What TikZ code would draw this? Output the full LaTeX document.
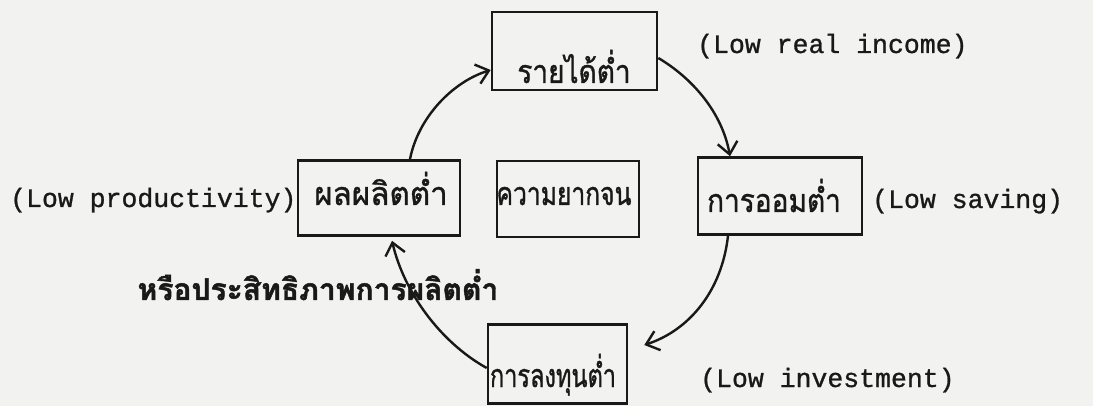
\documentclass[tikz,border=0pt]{standalone}
\usepackage{fontspec}
\usepackage{graphicx}
\usetikzlibrary{arrows.meta,calc}
\newfontfamily\thaifont[Script=Thai,FakeBold=1.2]{Loma}
\newfontfamily\thaiboldfont[Script=Thai,FakeBold=1.5]{Loma}
\newfontfamily\twfont[FakeBold=1]{Liberation Mono}
\definecolor{paper}{RGB}{242,242,240}
\definecolor{ink}{RGB}{25,25,25}
\begin{document}
\begin{tikzpicture}[x=1pt,y=-1pt,
  box/.style n args={2}{draw=ink,line width=2.6pt,minimum width=#1,minimum height=#2,inner sep=0pt},
  thaitext/.style={anchor=base,inner sep=0pt,text=ink,font=\thaifont\fontsize{28}{30}\selectfont},
  thaibold/.style={anchor=base,inner sep=0pt,text=ink,font=\thaiboldfont\bfseries\fontsize{30}{32}\selectfont},
  engtext/.style={anchor=base west,inner sep=0pt,text=ink,font=\twfont\fontsize{26.5}{28}\selectfont},
  conn/.style={draw=ink,line width=2.4pt,-{Straight Barb[length=12pt,width=20pt,line width=2.4pt]}}]
\useasboundingbox (0,0) rectangle (1093,406);
\fill[paper] (0,0) rectangle (1093,406);
% boxes
\node[box={165pt}{78pt}] (T) at (574.5,51) {};
\node[box={162pt}{75pt}] (L) at (379,198) {};
\node[box={142pt}{76pt}] (C) at (568,199) {};
\node[box={164pt}{77pt}] (R) at (780,196) {};
\node[box={139pt}{79pt}] (B) at (557.5,364) {};
% box texts
\node[thaitext] (Tt) at (574,83) {\scalebox{1}[1.15]{รายได้ต่ำ}};
\node[thaitext] (Lt) at (381,205) {\scalebox{1.12}[1.15]{ผลผลิตต่ำ}};
\node[thaitext] (Ct) at (564,205) {\scalebox{0.88}[1.15]{ความยากจน}};
\node[thaitext] (Rt) at (774,212) {\scalebox{1}[1.15]{การออมต่ำ}};
\node[thaitext] (Bt) at (553,387) {\scalebox{0.84}[1.15]{การลงทุนต่ำ}};
% side labels
\node[engtext] (Te) at (697,53) {(Low real income)};
\node[engtext] (Re) at (872,208) {(Low saving)};
\node[engtext] (Le) at (10,207) {(Low productivity)};
\node[engtext] (Be) at (700,387) {(Low investment)};
\node[thaibold] (Lb) at (318,300) {หรือประสิทธิภาพการผลิตต่ำ};
% cycle arrows
\draw[conn] ([xshift=31pt]L.north) .. controls (418,118) and (452,82) .. ([yshift=-19pt]T.west);
\draw[conn] ([yshift=-7pt]T.east) .. controls (692,78) and (722,112) .. ([xshift=-50pt]R.north);
\draw[conn] ([xshift=-52pt]R.south) .. controls (722,290) and (690,330) .. ([xshift=16pt,yshift=19pt]B.east);
\draw[conn] ([yshift=-4pt]B.west) .. controls (440,342) and (404,292) .. ([xshift=13pt,yshift=-4pt]L.south);
\end{tikzpicture}
\end{document}
